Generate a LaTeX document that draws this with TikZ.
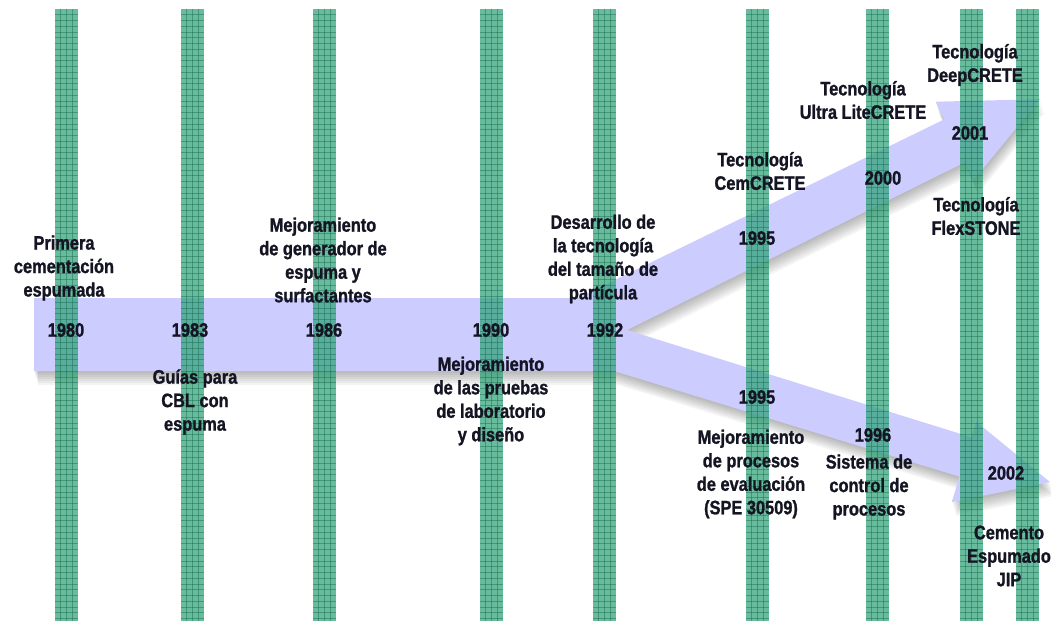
\documentclass[tikz,border=0pt]{standalone}
\usepackage{fontspec}
\newfontfamily\etiqfont{Liberation Sans}[FakeStretch=0.84,UprightFont={* Bold},FakeBold=1.2]

\definecolor{flecha}{RGB}{204,204,255}
\definecolor{barra}{RGB}{40,160,115}
\definecolor{rejilla}{RGB}{20,105,75}
\definecolor{texto}{RGB}{20,20,35}

% contorno de la flecha bifurcada
\newcommand{\flechapath}{(34,298) -- (578,298) -- (944.2,119.4) -- (935.5,101.7)
  -- (1040,99.2) -- (973.7,179.9) -- (965,162.2) -- (627,330) -- (971.5,437.3)
  -- (976.3,421.8) -- (1050,482) -- (951.7,502.2) -- (959.5,476.6) -- (614,371)
  -- (34,371) -- cycle}

\begin{document}
\begin{tikzpicture}[x=1pt,y=-1pt,
  etiqueta/.style={font=\etiqfont\fontsize{19.5}{23.5}\selectfont,
    text=texto,align=center,inner sep=0pt},
  barrafill/.style={fill=barra,fill opacity=0.7},
  rejillalinea/.style={rejilla,draw opacity=0.45,line width=0.6pt}]
  \useasboundingbox (0,0) rectangle (1051,623);

  % sombra
  \foreach \s in {2,4,...,14}
    \fill[black,opacity=0.045,shift={(0.3*\s,\s)}] \flechapath;

  % flecha
  \fill[flecha] \flechapath;

  % barras verticales con rejilla
  \foreach \xb in {55,181,313,480,593,746,866,960,1016} {
    \fill[barrafill] (\xb,9) rectangle ++(23,612);
    \foreach \gx in {5.75,11.5,17.25}
      \draw[rejillalinea] (\xb+\gx,9) -- ++(0,612);
    \foreach \gy in {5.75,11.5,...,610}
      \draw[rejillalinea] (\xb,9+\gy) -- ++(23,0);
  }

  % etiquetas superiores
  \node[etiqueta] (primera) at (64,268) {Primera\\cementación\\espumada};
  \node[etiqueta] (generador) at (323,260) {Mejoramiento\\de generador de\\espuma y\\surfactantes};
  \node[etiqueta] (particula) at (603,259) {Desarrollo de\\la tecnología\\del tamaño de\\partícula};
  \node[etiqueta] (cemcrete) at (760,171) {Tecnología\\CemCRETE};
  \node[etiqueta] (litecrete) at (863,100) {Tecnología\\Ultra LiteCRETE};
  \node[etiqueta] (deepcrete) at (975,65) {Tecnología\\DeepCRETE};
  \node[etiqueta] (flexstone) at (976,216) {Tecnología\\FlexSTONE};

  % años
  \node[etiqueta] (a1980) at (66,330) {1980};
  \node[etiqueta] (a1983) at (190,330) {1983};
  \node[etiqueta] (a1986) at (324,330) {1986};
  \node[etiqueta] (a1990) at (491,330) {1990};
  \node[etiqueta] (a1992) at (605,330) {1992};
  \node[etiqueta] (a1995s) at (757,238) {1995};
  \node[etiqueta] (a2000) at (883,178) {2000};
  \node[etiqueta] (a2001) at (970,133) {2001};
  \node[etiqueta] (a1995i) at (757,397) {1995};
  \node[etiqueta] (a1996) at (873,435) {1996};
  \node[etiqueta] (a2002) at (1006,473) {2002};

  % etiquetas inferiores
  \node[etiqueta] (guias) at (195,402) {Guías para\\CBL con\\espuma};
  \node[etiqueta] (pruebas) at (491,401) {Mejoramiento\\de las pruebas\\de laboratorio\\y diseño};
  \node[etiqueta] (evaluacion) at (751,474) {Mejoramiento\\de procesos\\de evaluación\\(SPE 30509)};
  \node[etiqueta] (control) at (869,487) {Sistema de\\control de\\procesos};
  \node[etiqueta] (jip) at (1009,556) {Cemento\\Espumado\\JIP};
\end{tikzpicture}
\end{document}
